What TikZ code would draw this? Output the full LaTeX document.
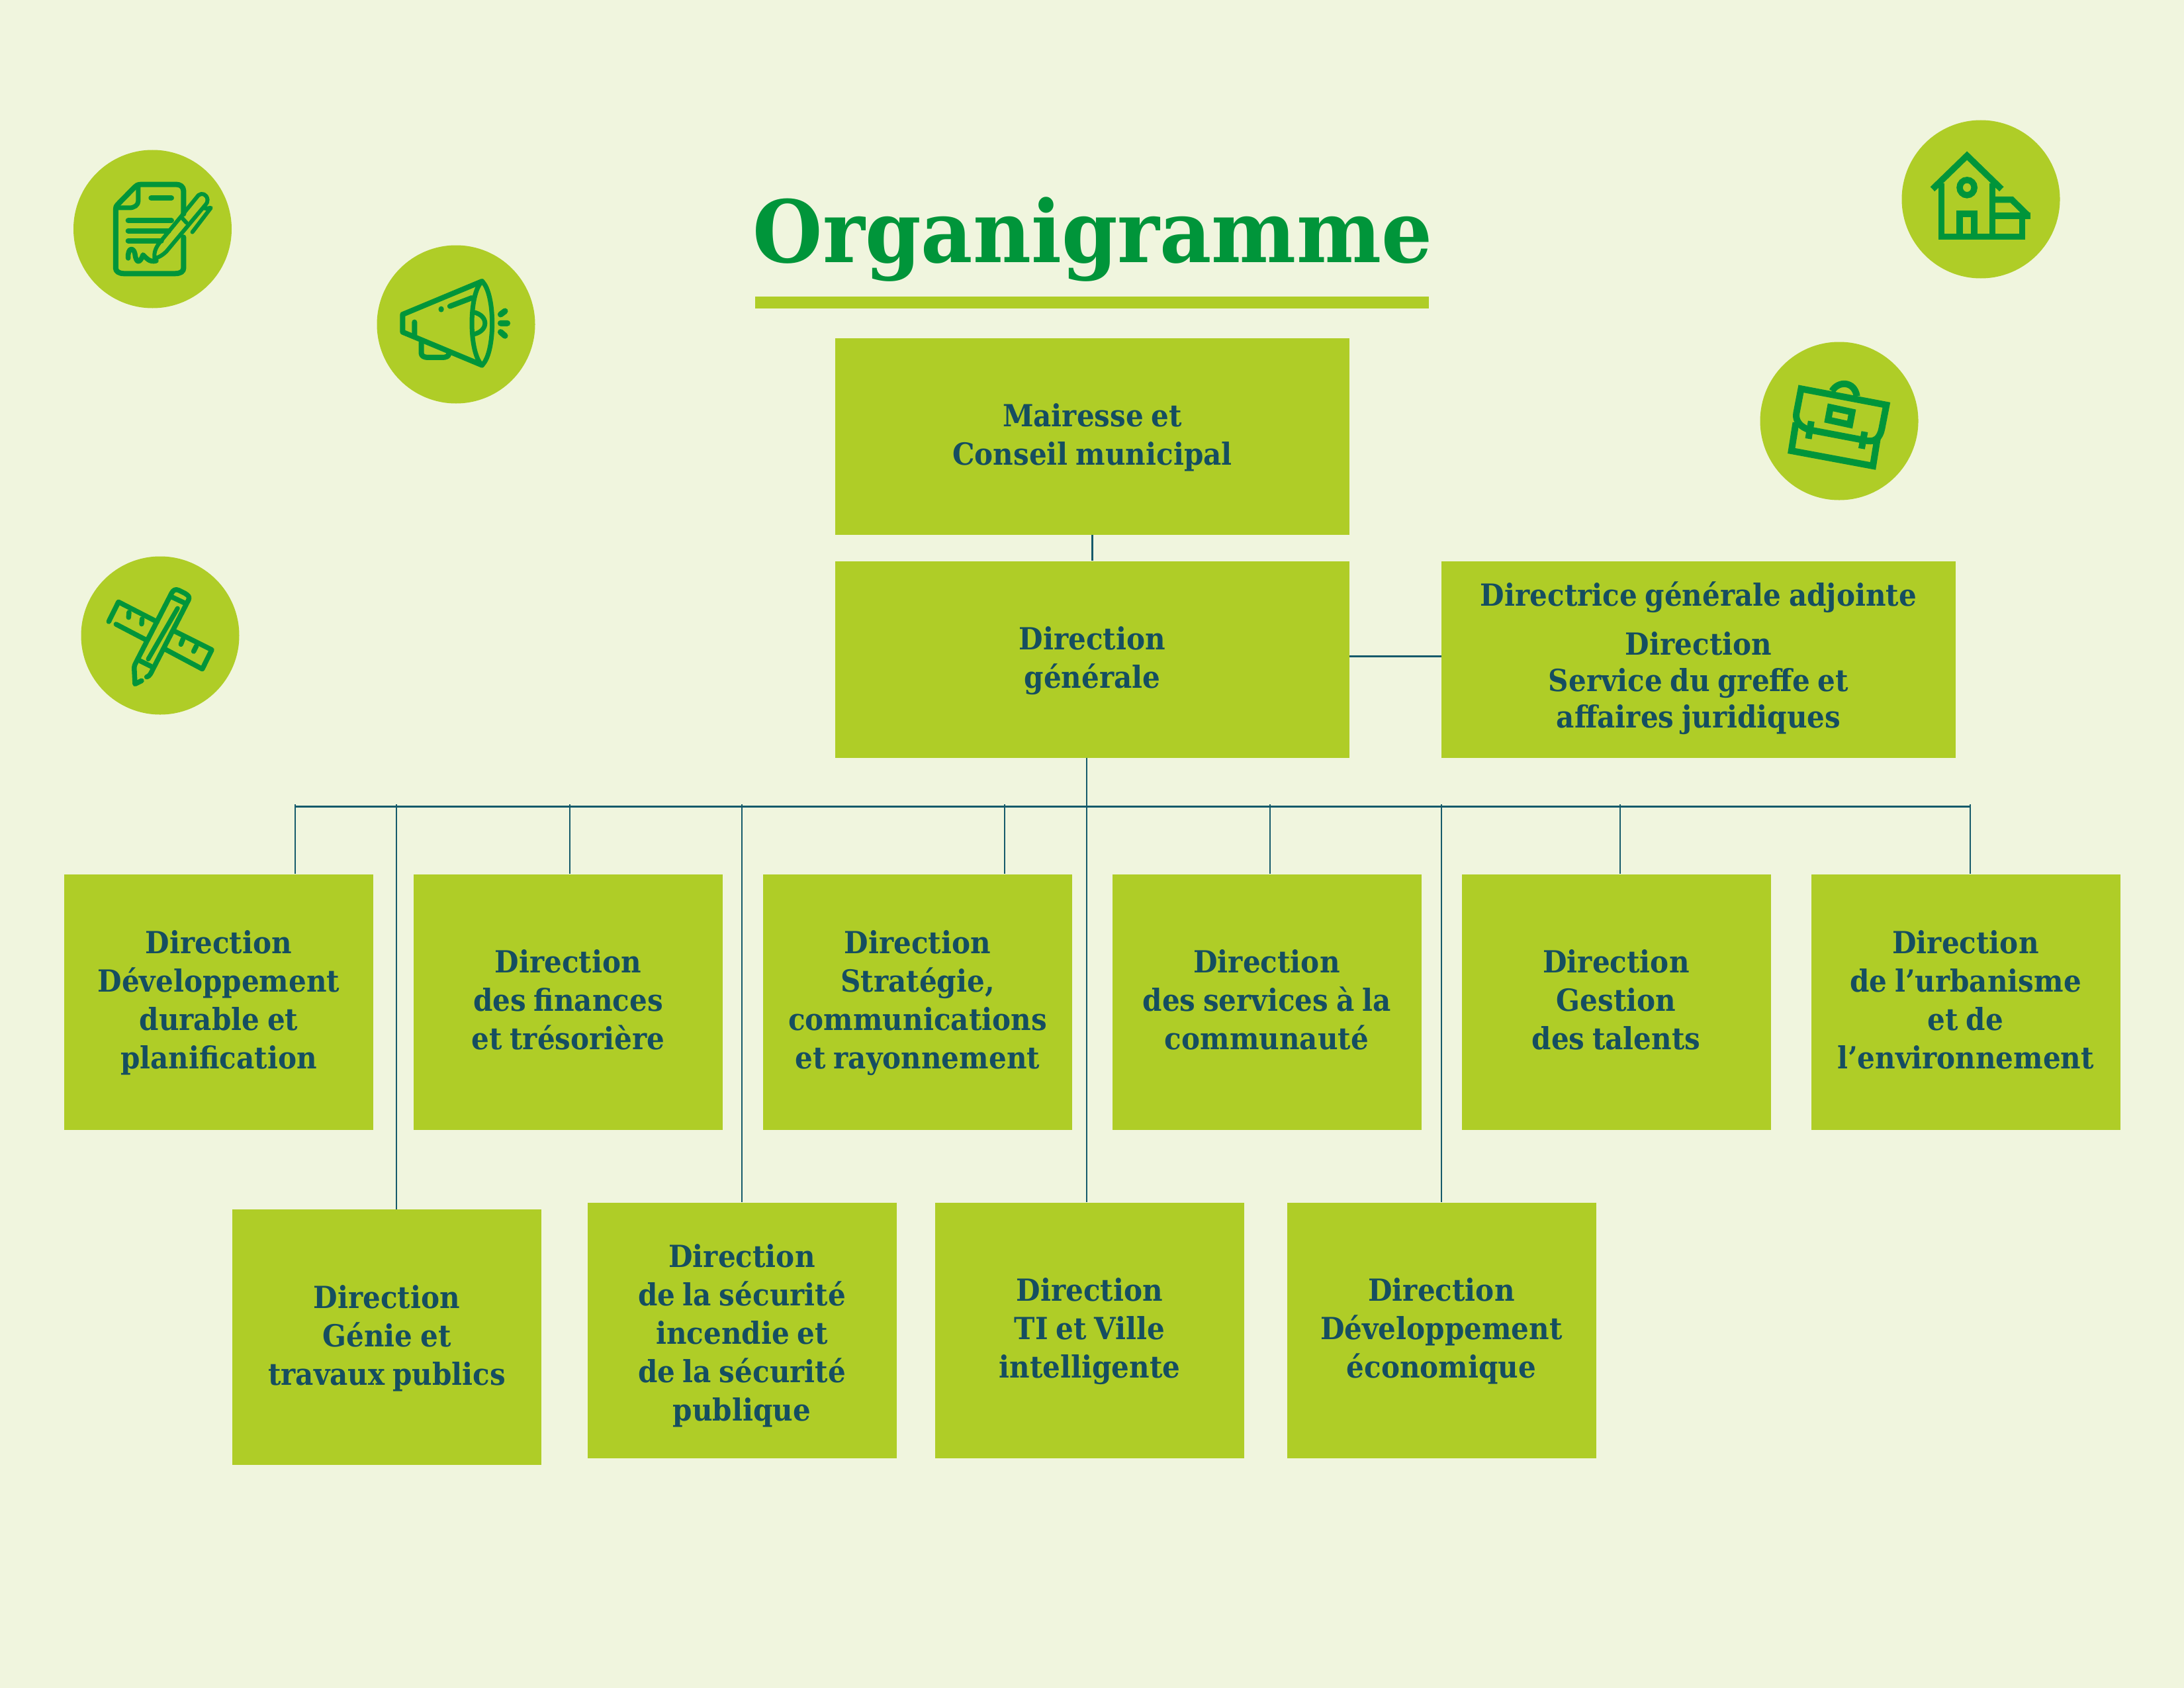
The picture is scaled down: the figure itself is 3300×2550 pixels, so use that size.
\documentclass[tikz,border=0pt]{standalone}
\usepackage{fontspec}
\setmainfont{DejaVu Serif}
\newfontfamily\bodyfont[FakeStretch=0.915,WordSpace=0.8]{DejaVu Serif Bold}
\newfontfamily\titlefont[FakeStretch=0.931]{DejaVu Serif Bold}
\definecolor{bgc}{HTML}{F0F5DE}
\definecolor{lime}{HTML}{AFCD27}
\definecolor{icon}{HTML}{00953A}
\definecolor{ink}{HTML}{154E60}
\definecolor{wirec}{HTML}{165B6B}
\newcommand{\Ln}[1]{\rule[-15pt]{0pt}{58pt}#1}
\lineskiplimit=-100pt
\normallineskiplimit=-100pt
\tikzset{
  x=1pt,y=-1pt,
  boxn/.style={fill=lime,draw=none,inner sep=0pt,align=center,text=ink,
    font=\bodyfont\fontsize{46}{58}\selectfont},
  wide/.style={boxn,minimum width=777pt,minimum height=297pt},
  narrow/.style={boxn,minimum width=467pt,minimum height=386pt},
  wire/.style={draw=wirec,line width=2.5pt},
  bus/.style={draw=wirec,line width=3pt},
  disc/.style={circle,fill=lime,draw=none,minimum size=239pt,inner sep=0pt},
  ic/.style={draw=icon,line width=#1,line cap=round,line join=round},
  icb/.style={draw=icon,line width=#1,line cap=butt,line join=miter},
}
\begin{document}
\begin{tikzpicture}
\useasboundingbox (0,0) rectangle (3300,2550);
\fill[bgc] (0,0) rectangle (3300,2550);

% title
\node[inner sep=0pt,anchor=base,text=icon,font=\titlefont\fontsize{130}{130}\selectfont] (title) at (1651,396) {Organigramme};
\fill[lime] (1141,448) rectangle (2159,466);

% boxes
\node[wide,minimum height=297pt] (mc) at (1650.5,659.5) {\Ln{Mairesse et}\\\Ln{Conseil municipal}};
\node[wide] (dg) at (1650.5,996) {\Ln{Direction}\\\Ln{générale}};
\node[wide,font=\bodyfont\fontsize{46}{55}\selectfont] (adj) at (2566.5,996) {\Ln{Directrice générale adjointe}\\[19pt]\Ln{Direction}\\\Ln{Service du greffe et}\\\Ln{affaires juridiques}\rule[-20pt]{0pt}{1pt}};

\node[narrow] (b1) at (330.5,1513.5) {\Ln{Direction}\\\Ln{Développement}\\\Ln{durable et}\\\Ln{planification}};
\node[narrow] (b2) at (858.5,1513.5) {\Ln{Direction}\\\Ln{des finances}\\\Ln{et trésorière}};
\node[narrow] (b3) at (1386.5,1513.5) {\Ln{Direction}\\\Ln{Stratégie,}\\\Ln{communications}\\\Ln{et rayonnement}};
\node[narrow] (b4) at (1914,1513.5) {\Ln{Direction}\\\Ln{des services à la}\\\Ln{communauté}};
\node[narrow] (b5) at (2442,1513.5) {\Ln{Direction}\\\Ln{Gestion}\\\Ln{des talents}};
\node[narrow] (b6) at (2970,1513.5) {\Ln{Direction}\\\Ln{de l’urbanisme}\\\Ln{et de}\\\Ln{l’environnement}};

\node[narrow] (b7) at (584.5,2020) {\Ln{Direction}\\\Ln{Génie et}\\\Ln{travaux publics}};
\node[narrow] (b8) at (1121,2009.5) {\rule{0pt}{56pt}\Ln{Direction}\\\Ln{de la sécurité}\\\Ln{incendie et}\\\Ln{de la sécurité}\\\Ln{publique}};
\node[narrow] (b9) at (1646.5,2009.5) {\Ln{Direction}\\\Ln{TI et Ville}\\\Ln{intelligente}};
\node[narrow] (b10) at (2178,2009.5) {\Ln{Direction}\\\Ln{Développement}\\\Ln{économique}};

% connectors
\coordinate (busL) at (446,1218);
\coordinate (busR) at (2977,1218);
\coordinate (tapT) at (1642,1215);
\coordinate (tap1) at (446,1215);
\coordinate (tap7) at (599,1215);
\coordinate (tap2) at (861,1215);
\coordinate (tap8) at (1121,1215);
\coordinate (tap3) at (1518,1215);
\coordinate (tap4) at (1919,1215);
\coordinate (tap10) at (2178,1215);
\coordinate (tap5) at (2448,1215);
\coordinate (tap6) at (2977,1215);
\coordinate (side) at (2100,991);
\draw[wire] (mc.south) -- (dg.north);
\draw[bus] (side -| dg.east) -- (side -| adj.west);
\draw[bus] (busL) -- (busR);
\draw[wire] (tapT |- dg.south) -- (tapT |- b9.north);
\foreach \t/\b in {tap1/b1,tap7/b7,tap2/b2,tap8/b8,tap3/b3,tap4/b4,tap10/b10,tap5/b5,tap6/b6}
  \draw[wire] (\t) -- (\t |- \b.north);

% discs
\node[disc] (d1) at (230.5,346) {};
\node[disc] (d2) at (689,490) {};
\node[disc] (d3) at (242,960) {};
\node[disc] (d4) at (2993,301) {};
\node[disc] (d5) at (2779,636) {};

% document icon
\begin{scope}[shift={(60,160)},x=0.5102pt,y=-0.3333pt]
  \draw[ic=8pt] (426,490) -- (426,385) .. controls (426,365) and (415,356) .. (405,356) -- (300,356) .. controls (290,356) and (285,362) .. (280,370) -- (232,445) .. controls (226,455) and (225,460) .. (225,470) -- (225,735) .. controls (225,750) and (235,760) .. (250,760) -- (400,760) .. controls (418,760) and (426,750) .. (426,735) -- (426,595);
  \draw[ic=7pt] (292,365) -- (292,430) .. controls (292,450) and (280,462) .. (265,462) -- (228,462);
  \draw[ic=8pt] (330,417) -- (390,417) (262,520) -- (390,520) (262,566) -- (382,566) (262,611) -- (360,611);
  \draw[ic=7.5pt] (262,690) .. controls (260,640) and (278,640) .. (282,670) .. controls (286,720) and (298,710) .. (306,675) .. controls (316,690) and (325,710) .. (345,702);
  \draw[ic=6pt] (340,690) .. controls (338,660) and (345,640) .. (355,620) -- (470,405) .. controls (480,392) and (495,400) .. (497,425) .. controls (498,435) and (495,440) .. (490,450) -- (375,660) .. controls (365,675) and (350,690) .. (340,690);
  \draw[ic=6pt] (420,505) -- (435,530);
  \draw[ic=6pt] (490,465) -- (507,462) -- (452,572);
\end{scope}

% megaphone icon
\begin{scope}[shift={(60,160)},x=0.5102pt,y=-0.3333pt]
  \draw[ic=8pt] (1310,795) -- (1075,945) -- (1075,1025) -- (1310,1175);
  \draw[ic=7pt] (1310,795) .. controls (1270,850) and (1270,1120) .. (1310,1175) .. controls (1350,1120) and (1350,850) .. (1310,795);
  \draw[ic=7pt] (1285,935) .. controls (1330,950) and (1330,1020) .. (1285,1035);
  \draw[ic=8pt] (1215,908) -- (1280,870) (1189,920) -- (1189,923) (1110,980) -- (1110,1040);
  \draw[ic=8pt] (1130,1072) -- (1130,1120) .. controls (1130,1135) and (1140,1140) .. (1150,1140) -- (1190,1140) .. controls (1205,1140) and (1212,1135) .. (1212,1120);
  \draw[ic=9pt] (1365,945) -- (1378,930) (1365,985) -- (1385,985) (1365,1025) -- (1378,1042);
\end{scope}

% house icon
\begin{scope}[shift={(2620,160)},x=0.3571pt,y=-0.3953pt]
  \draw[icb=9.5pt] (840,318) -- (986,190) -- (1132,318);
  \draw[icb=9.5pt] (878,295) -- (878,500) -- (1220,500) -- (1220,420);
  \draw[icb=9.5pt] (1093,295) -- (1093,500);
  \draw[icb=9.5pt] (955,500) -- (955,412) -- (1017,412) -- (1017,500);
  \draw[icb=9.5pt] (986,312) ellipse [x radius=31,y radius=29];
  \draw[icb=9.5pt] (1093,358) -- (1175,358) -- (1245,420);
  \draw[icb=9.5pt] (1093,420) -- (1255,420);
\end{scope}

% briefcase icon
\begin{scope}[shift={(2620,160)},x=0.3571pt,y=-0.3953pt]
  \draw[icb=10pt] (284,1081) -- (645,1143) -- (625,1235) .. controls (618,1265) and (600,1285) .. (565,1280) -- (320,1238) .. controls (285,1230) and (258,1205) .. (264,1175) -- cycle;
  \draw[icb=10pt] (262,1210) -- (243,1318) -- (588,1376) -- (607,1270);
  \draw[icb=10pt] (415,1090) .. controls (440,1050) and (510,1050) .. (520,1110);
  \draw[icb=10pt] (408,1152) -- (500,1170) -- (490,1218) -- (398,1200) -- cycle;
  \draw[icb=10pt] (327,1205) -- (315,1272) (553,1245) -- (540,1310);
\end{scope}

% pencil and ruler icon
\begin{scope}[shift={(100,820)},x=0.3333pt,y=-0.3333pt]
  \draw[ic=7.5pt] (193,357) -- (237,268) -- (412,358) (226,369) -- (362,440);
  \draw[ic=7.5pt] (285,315) -- (283,338) (344,345) -- (342,368);
  \draw[ic=7.5pt] (490,400) -- (660,485) -- (617,572) -- (450,483);
  \draw[ic=7.5pt] (530,435) -- (520,460) (590,468) -- (578,492);
  \draw[ic=7.5pt] (365,608) .. controls (378,605) and (385,590) .. (392,575) -- (555,258) .. controls (560,245) and (555,240) .. (540,230) -- (510,215) .. controls (495,208) and (485,215) .. (478,228) -- (315,545) .. controls (308,558) and (308,565) .. (309,580) -- (312,640) -- (342,625);
  \draw[ic=7.5pt] (478,245) -- (535,272) (335,535) -- (385,560);
  \draw[ic=7pt] (372,527) -- (505,297);
\end{scope}
\end{tikzpicture}
\end{document}
